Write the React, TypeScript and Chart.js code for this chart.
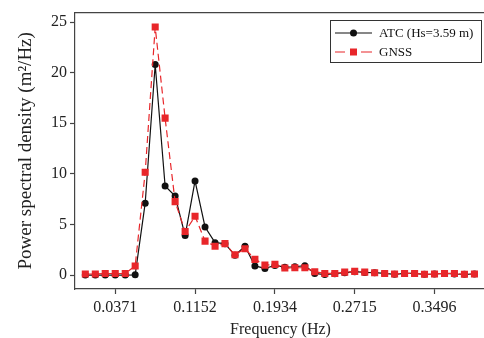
import React, { useEffect, useRef } from "react";
import { Chart, registerables } from "chart.js";

Chart.register(...registerables);

const frequencies = [
  0.0078, 0.0176, 0.0273, 0.0371, 0.0469, 0.0566, 0.0664, 0.0762, 0.0859, 0.0957,
  0.1055, 0.1152, 0.125, 0.1348, 0.1445, 0.1543, 0.1641, 0.1738, 0.1836, 0.1934,
  0.2031, 0.2129, 0.2227, 0.2324, 0.2422, 0.252, 0.2617, 0.2715, 0.2813, 0.291,
  0.3008, 0.3105, 0.3203, 0.3301, 0.3398, 0.3496, 0.3594, 0.3691, 0.3789, 0.3887,
];

const atcPsd = [
  0, 0, 0, 0, 0, 0.02, 7.1, 20.8, 8.8, 7.8,
  3.9, 9.3, 4.75, 3.2, 3.1, 1.95, 2.85, 0.9, 0.65, 0.95,
  0.78, 0.82, 0.92, 0.16, 0.05, 0.13, 0.23, 0.33, 0.26, 0.23,
  0.16, 0.07, 0.16, 0.16, 0.07, 0.1, 0.16, 0.1, 0.07, 0.1,
];

const gnssPsd = [
  0.1, 0.1, 0.15, 0.15, 0.15, 0.9, 10.15, 24.5, 15.5, 7.25,
  4.3, 5.8, 3.35, 2.85, 3.1, 2.0, 2.6, 1.55, 0.98, 1.05,
  0.69, 0.72, 0.72, 0.33, 0.16, 0.16, 0.29, 0.36, 0.29, 0.23,
  0.16, 0.1, 0.16, 0.16, 0.07, 0.1, 0.16, 0.16, 0.07, 0.1,
];

const xTickValues = [0.0371, 0.1152, 0.1934, 0.2715, 0.3496];
const yTickValues = [0, 5, 10, 15, 20, 25];
const seriesLabels = ["ATC (Hs=3.59 m)", "GNSS"];
const xTitle = "Frequency (Hz)";
const yTitle = "Power spectral density (m\u00B2/Hz)";

const FONT = "'Liberation Serif', 'Times New Roman', serif";
const RED = "#e8262a";
const BLACK = "#111111";
const AXIS = "#444444";

const framePlugin = {
  id: "frame",
  afterDraw(chart: any) {
    const { ctx, chartArea } = chart;
    ctx.save();
    ctx.strokeStyle = AXIS;
    ctx.lineWidth = 1.2;
    ctx.beginPath();
    ctx.moveTo(chartArea.left, chartArea.top);
    ctx.lineTo(chartArea.right, chartArea.top);
    ctx.lineTo(chartArea.right, chartArea.bottom);
    ctx.stroke();

    // legend
    const bx = 330, by = 20, bw = 151, bh = 42;
    ctx.fillStyle = "#ffffff";
    ctx.fillRect(bx, by, bw, bh);
    ctx.strokeStyle = "#333333";
    ctx.lineWidth = 1;
    ctx.strokeRect(bx + 0.5, by + 0.5, bw, bh);

    const y1 = 33, y2 = 52;
    // ATC row
    ctx.strokeStyle = BLACK;
    ctx.lineWidth = 1.2;
    ctx.beginPath();
    ctx.moveTo(335, y1);
    ctx.lineTo(372, y1);
    ctx.stroke();
    ctx.fillStyle = BLACK;
    ctx.beginPath();
    ctx.arc(353.5, y1, 3.5, 0, Math.PI * 2);
    ctx.fill();
    // GNSS row
    ctx.strokeStyle = RED;
    ctx.beginPath();
    ctx.moveTo(335, y2);
    ctx.lineTo(345, y2);
    ctx.moveTo(361, y2);
    ctx.lineTo(372, y2);
    ctx.stroke();
    ctx.fillStyle = RED;
    ctx.fillRect(350, y2 - 3.5, 7, 7);

    ctx.fillStyle = "#111111";
    ctx.font = `13px ${FONT}`;
    ctx.textBaseline = "middle";
    ctx.textAlign = "left";
    ctx.fillText(seriesLabels[0], 379, y1 + 0.5);
    ctx.fillText(seriesLabels[1], 379, y2 + 0.5);
    ctx.restore();
  },
};

export default function App() {
  const ref = useRef<HTMLCanvasElement | null>(null);

  useEffect(() => {
    if (!ref.current) return;
    const chart = new Chart(ref.current, {
      type: "line",
      data: {
        datasets: [
          {
            label: seriesLabels[0],
            data: frequencies.map((f, i) => ({ x: f, y: atcPsd[i] })),
            borderColor: BLACK,
            backgroundColor: BLACK,
            borderWidth: 1.2,
            pointStyle: "circle",
            pointRadius: 3.5,
            pointBorderWidth: 0,
            tension: 0,
            order: 1,
          },
          {
            label: seriesLabels[1],
            data: frequencies.map((f, i) => ({ x: f, y: gnssPsd[i] })),
            borderColor: RED,
            backgroundColor: RED,
            borderWidth: 1.2,
            borderDash: [7, 4],
            pointStyle: "rect",
            pointRadius: 5,
            pointBorderWidth: 0,
            tension: 0,
            order: 0,
          },
        ],
      },
      options: {
        responsive: false,
        animation: false,
        devicePixelRatio: 1,
        layout: { padding: { top: 11, left: 0, right: 0, bottom: 0 } },
        plugins: {
          legend: { display: false },
          tooltip: { enabled: false },
        },
        scales: {
          x: {
            type: "linear",
            min: -0.0023,
            max: 0.4,
            afterBuildTicks: (scale: any) => {
              scale.ticks = xTickValues.map((v) => ({ value: v }));
            },
            afterFit: (scale: any) => {
              scale.height = 49;
            },
            grid: {
              display: true,
              drawOnChartArea: false,
              drawTicks: true,
              tickLength: 5,
              tickColor: AXIS,
              tickWidth: 1.2,
            },
            border: { display: true, color: AXIS, width: 1.2 },
            ticks: {
              font: { family: FONT, size: 16 },
              color: "#222222",
              padding: 4,
              maxRotation: 0,
              autoSkip: false,
              callback: (v: any) => Number(v).toFixed(4),
            },
            title: {
              display: true,
              text: xTitle,
              font: { family: FONT, size: 16, lineHeight: 1 },
              color: "#222222",
              padding: { top: 0, bottom: 0 },
            },
          },
          y: {
            type: "linear",
            min: -1.38,
            max: 25.93,
            afterBuildTicks: (scale: any) => {
              scale.ticks = yTickValues.map((v) => ({ value: v }));
            },
            afterFit: (scale: any) => {
              scale.width = 75;
            },
            grid: {
              display: true,
              drawOnChartArea: false,
              drawTicks: true,
              tickLength: 5,
              tickColor: AXIS,
              tickWidth: 1.2,
            },
            border: { display: true, color: AXIS, width: 1.2 },
            ticks: {
              font: { family: FONT, size: 16 },
              color: "#222222",
              padding: 3,
              callback: (v: any) => String(v),
            },
            title: {
              display: true,
              text: yTitle,
              font: { family: FONT, size: 19, lineHeight: 1 },
              color: "#222222",
              padding: { top: 16.5, bottom: 0 },
            },
          },
        },
      },
      plugins: [framePlugin],
    });
    return () => chart.destroy();
  }, []);

  return (
    <div
      style={{
        position: "fixed",
        left: 0,
        top: 0,
        width: 484,
        height: 338,
        overflow: "hidden",
        background: "#ffffff",
      }}
    >
      <canvas ref={ref} width={491} height={338} style={{ display: "block" }} />
    </div>
  );
}
